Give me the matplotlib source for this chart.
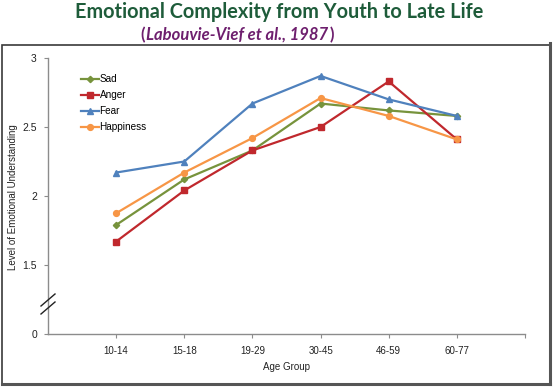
import matplotlib
matplotlib.use("Agg")
import matplotlib.pyplot as plt
from matplotlib.patches import Rectangle
from matplotlib.lines import Line2D

# ---- data ----
age_groups = ["10-14", "15-18", "19-29", "30-45", "46-59", "60-77"]
sad = [1.79, 2.12, 2.33, 2.67, 2.62, 2.58]
anger = [1.67, 2.04, 2.33, 2.50, 2.83, 2.41]
fear = [2.17, 2.25, 2.67, 2.87, 2.70, 2.58]
happiness = [1.875, 2.17, 2.42, 2.71, 2.58, 2.41]
ytick_values = [1.0, 1.5, 2.0, 2.5, 3.0]
ytick_labels = ["0", "1.5", "2", "2.5", "3"]

W, H = 553, 388
fig = plt.figure(figsize=(W / 100, H / 100), dpi=100)
fig.patch.set_facecolor("white")
plt.rcParams["font.family"] = ["Liberation Sans", "DejaVu Sans"]

def fx(px):
    return px / W

def fy(py):
    return 1 - py / H

# outer border
fig.add_artist(Rectangle((fx(2), fy(384)), fx(548), (382 - 43) / H,
                         transform=fig.transFigure, fill=False,
                         edgecolor="#3a3a3a", linewidth=1.2))
fig.add_artist(Line2D([fx(2), fx(550)], [fy(384), fy(384)], transform=fig.transFigure,
                      color="#555555", linewidth=2.2))
fig.add_artist(Line2D([fx(550), fx(550)], [fy(43), fy(384)], transform=fig.transFigure,
                      color="#555555", linewidth=2.2))

ax = fig.add_axes([fx(48), fy(334), fx(525 - 48), (334 - 58) / H])
x = list(range(1, len(age_groups) + 1))

series = [
    ("Sad", sad, "#77933C", "D", 3.2),
    ("Anger", anger, "#C0282D", "s", 3.8),
    ("Fear", fear, "#4F81BD", "^", 4.2),
    ("Happiness", happiness, "#F79646", "o", 4.2),
]
for name, vals, col, mk, ms in series:
    ax.plot(x, vals, color=col, marker=mk, markersize=ms, linewidth=1.6,
            label=name, markeredgecolor=col)

ax.set_xlim(0, 7)
ax.set_ylim(1.0, 3.0)
ax.set_xticks(x)
ax.set_xticklabels(age_groups, fontsize=7)
ax.set_xticks([7], minor=True)
ax.set_yticks(ytick_values)
ax.set_yticklabels(ytick_labels, fontsize=7.5)
for s in ["top", "right"]:
    ax.spines[s].set_visible(False)
for s in ["left", "bottom"]:
    ax.spines[s].set_color("#8c8c8c")
    ax.spines[s].set_linewidth(1.0)
ax.tick_params(axis="both", which="both", colors="#8c8c8c", length=3, width=0.8,
               labelcolor="#222222")
ax.tick_params(axis="x", pad=6)
ax.tick_params(axis="y", pad=5)

ax.set_xlabel("Age Group", fontsize=7, color="#222222", labelpad=4)
ax.set_ylabel("Level of Emotional Understanding", fontsize=7, color="#222222")
ax.yaxis.set_label_coords((18 - 48) / (525 - 48), (334 - 197) / (334 - 58))

# axis break marks
for dy in (0, 8):
    fig.add_artist(Line2D([fx(41), fx(55)], [fy(306 + dy), fy(294 + dy)],
                          transform=fig.transFigure, color="#222222", linewidth=1.0))

leg = ax.legend(loc="upper left", bbox_to_anchor=(0.06, 0.955), frameon=False,
                fontsize=7.2, handlelength=1.8, handletextpad=0.1, labelspacing=0.6,
                borderaxespad=0)

# titles
fig.text(fx(279), fy(12), "Emotional Complexity from Youth to Late Life",
         ha="center", va="center", fontsize=14.3, fontweight="bold",
         color="#1E5C3A", family="Lato")

purple = "#6E1F6E"
fig.canvas.draw()
r = fig.canvas.get_renderer()
t_mid = fig.text(fx(237), fy(35), "Labouvie-Vief et al., 1987", ha="center", va="center",
                 fontsize=12, fontweight="bold", style="italic", color=purple,
                 family="Lato")
bb = t_mid.get_window_extent(renderer=r)
fig.text(bb.x0 / W - 0.002, fy(35), "(", ha="right", va="center", fontsize=12,
         fontweight="bold", color=purple, family="Lato")
fig.text(bb.x1 / W + 0.002, fy(35), ")", ha="left", va="center", fontsize=12,
         fontweight="bold", color=purple, family="Lato")

fig.savefig("out.png", dpi=100, facecolor="white")
